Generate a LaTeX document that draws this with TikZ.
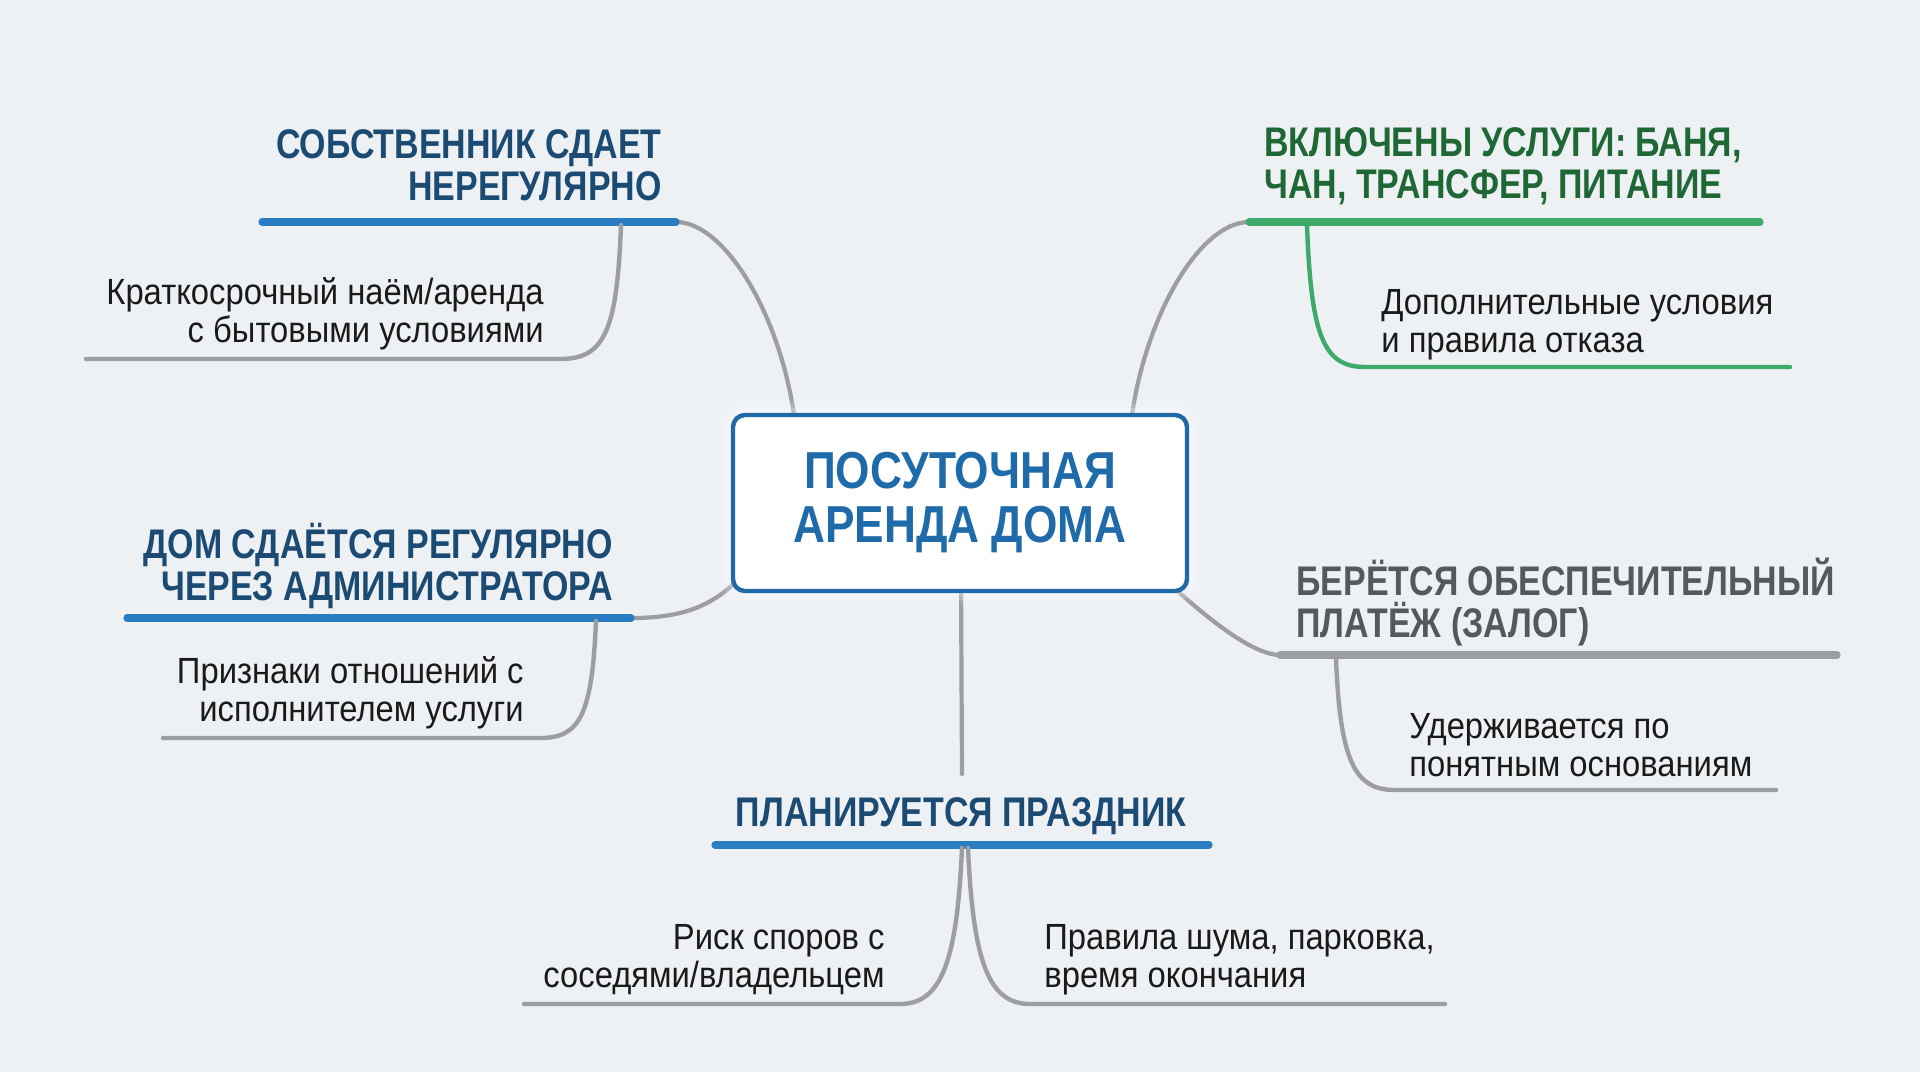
\documentclass[tikz,border=0pt]{standalone}
\usepackage{fontspec}
\setmainfont{Liberation Sans}[FakeStretch=0.82]
\newfontfamily\bodyfont{Liberation Sans}[FakeStretch=0.9]
\newfontfamily\centerfont{Liberation Sans}[FakeStretch=0.85]
\usetikzlibrary{calc}
\definecolor{bg}{HTML}{EEF1F4}
\definecolor{navy}{HTML}{1B4A73}
\definecolor{cblue}{HTML}{1F6BAA}
\definecolor{lblue}{HTML}{2B7DC3}
\definecolor{dgreen}{HTML}{1F6836}
\definecolor{lgreen}{HTML}{3DAA6B}
\definecolor{dgray}{HTML}{55595D}
\definecolor{lgray}{HTML}{9C9EA0}
\definecolor{txt}{HTML}{1A1A1A}
\begin{document}
\begin{tikzpicture}[x=0.5pt,y=-0.5pt,
 head/.style={font=\fontsize{20.7}{21}\selectfont\bfseries, inner sep=0pt},
 body/.style={font=\bodyfont\fontsize{18.2}{19}\selectfont, text=txt, inner sep=0pt},
 conn/.style={draw=lgray, line width=2.1pt, line cap=round},
 uline/.style={line width=3.6pt, line cap=round},
 sub/.style={line width=2.2pt, line cap=round}]
\fill[bg] (0,0) rectangle (1920,1072);
\useasboundingbox (0,0) rectangle (1920,1072);

% attach points
\coordinate (aTL) at (796,430);
\coordinate (aTR) at (1130,430);
\coordinate (aL) at (745,572);
\coordinate (aR) at (1160,580);
\coordinate (aB) at (961,580);

% underline ends
\coordinate (ulTLw) at (262,222); \coordinate (ulTLe) at (676,222);
\coordinate (ulTRw) at (1249,222); \coordinate (ulTRe) at (1760,222);
\coordinate (ulLw) at (127,618); \coordinate (ulLe) at (631,618);
\coordinate (ulRw) at (1280,655); \coordinate (ulRe) at (1837,655);
\coordinate (ulBw) at (715,845); \coordinate (ulBe) at (1209,845);
\coordinate (bTop) at (962,774);

% main connectors
\draw[conn] (ulTLe) .. controls +(50,0) and +(-12,-110) .. (aTL);
\draw[conn] (ulTRw) .. controls +(-50,0) and +(12,-110) .. (aTR);
\draw[conn] (ulLe) .. controls +(50,0) and +(-30,35) .. (aL);
\draw[conn] (ulRw) .. controls +(-50,0) and +(-40,-50) .. (aR);
\draw[conn] (aB) -- (bTop);

% soft glow around the central box
\foreach \g/\o in {14/0.10,10/0.15,6/0.2}{
  \fill[white, opacity=\o, rounded corners=10pt]
    (733-\g,414-\g) rectangle (1187+\g,590+\g);
}

% central box
\node[draw=cblue, line width=2.2pt, fill=white, rounded corners=6pt,
      minimum width=227pt, minimum height=88pt, align=center, text=cblue,
      font=\centerfont\fontsize{26}{27}\selectfont\bfseries] (center) at (960,503)
      {ПОСУТОЧНАЯ\\АРЕНДА ДОМА};

% branch: top-left
\draw[uline, lblue] (ulTLw) -- (ulTLe);
\node[head, text=navy, align=right, anchor=east] (hTL) at (662,165)
  {СОБСТВЕННИК СДАЕТ\\НЕРЕГУЛЯРНО};
\coordinate (sTL) at (621,225); \coordinate (eTL) at (86,359);
\draw[sub, lgray] (sTL) .. controls (617,330) and (605,359) .. (560,359) -- (eTL);
\node[body, align=right, anchor=east] (bTL) at (544,314)
  {Краткосрочный наём/аренда\\с бытовыми условиями};

% branch: top-right
\draw[uline, lgreen] (ulTRw) -- (ulTRe);
\node[head, text=dgreen, align=left, anchor=west] (hTR) at (1264,166)
  {ВКЛЮЧЕНЫ УСЛУГИ: БАНЯ,\\ЧАН, ТРАНСФЕР, ПИТАНИЕ};
\coordinate (sTR) at (1307,225); \coordinate (eTR) at (1790,367);
\draw[sub, lgreen] (sTR) .. controls (1311,335) and (1323,367) .. (1365,367) -- (eTR);
\node[body, align=left, anchor=west] (bTR) at (1381,325)
  {Дополнительные условия\\и правила отказа};

% branch: left
\draw[uline, lblue] (ulLw) -- (ulLe);
\node[head, text=navy, align=right, anchor=east] (hL) at (613,566)
  {ДОМ СДАЁТСЯ РЕГУЛЯРНО\\ЧЕРЕЗ АДМИНИСТРАТОРА};
\coordinate (sL) at (596,621); \coordinate (eL) at (163,738);
\draw[sub, lgray] (sL) .. controls (592,715) and (580,738) .. (540,738) -- (eL);
\node[body, align=right, anchor=east] (bL) at (524,693)
  {Признаки отношений с\\исполнителем услуги};

% branch: right
\draw[uline, lgray] (ulRw) -- (ulRe);
\node[head, text=dgray, align=left, anchor=west] (hR) at (1296,602)
  {БЕРЁТСЯ ОБЕСПЕЧИТЕЛЬНЫЙ\\ПЛАТЁЖ (ЗАЛОГ)};
\coordinate (sR) at (1336,658); \coordinate (eR) at (1776,790);
\draw[sub, lgray] (sR) .. controls (1340,762) and (1355,790) .. (1395,790) -- (eR);
\node[body, align=left, anchor=west] (bR) at (1409,745)
  {Удерживается по\\понятным основаниям};

% branch: bottom
\draw[uline, lblue] (ulBw) -- (ulBe);
\node[head, text=navy, anchor=center] (hB) at (961,816) {ПЛАНИРУЕТСЯ ПРАЗДНИК};
\coordinate (sBL) at (962,848); \coordinate (eBL) at (524,1004);
\coordinate (sBR) at (968,848); \coordinate (eBR) at (1445,1004);
\draw[sub, lgray] (sBL) .. controls (957,960) and (942,1004) .. (900,1004) -- (eBL);
\draw[sub, lgray] (sBR) .. controls (973,960) and (988,1004) .. (1030,1004) -- (eBR);
\node[body, align=right, anchor=east] (bBL) at (885,960)
  {Риск споров с\\соседями/владельцем};
\node[body, align=left, anchor=west] (bBR) at (1044,960)
  {Правила шума, парковка,\\время окончания};
\end{tikzpicture}
\end{document}
